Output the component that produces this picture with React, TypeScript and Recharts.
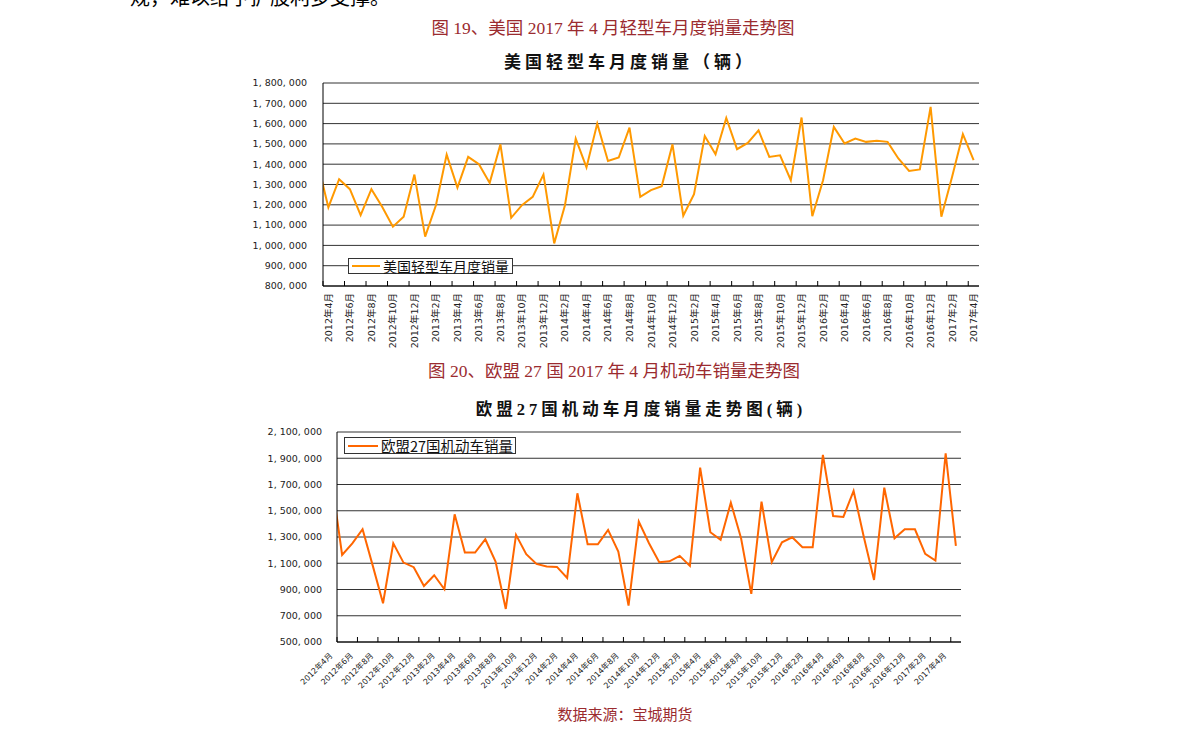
import React from 'react';
import { LineChart, Line, XAxis, YAxis, CartesianGrid, Legend } from 'recharts';

// Months: the first one (2012年3月) lies just outside the plotted range and is clipped.
const months = [
  '2012年3月', '2012年4月', '2012年5月', '2012年6月', '2012年7月', '2012年8月', '2012年9月', '2012年10月', '2012年11月', '2012年12月',
  '2013年1月', '2013年2月', '2013年3月', '2013年4月', '2013年5月', '2013年6月', '2013年7月', '2013年8月', '2013年9月', '2013年10月', '2013年11月', '2013年12月',
  '2014年1月', '2014年2月', '2014年3月', '2014年4月', '2014年5月', '2014年6月', '2014年7月', '2014年8月', '2014年9月', '2014年10月', '2014年11月', '2014年12月',
  '2015年1月', '2015年2月', '2015年3月', '2015年4月', '2015年5月', '2015年6月', '2015年7月', '2015年8月', '2015年9月', '2015年10月', '2015年11月', '2015年12月',
  '2016年1月', '2016年2月', '2016年3月', '2016年4月', '2016年5月', '2016年6月', '2016年7月', '2016年8月', '2016年9月', '2016年10月', '2016年11月', '2016年12月',
  '2017年1月', '2017年2月', '2017年3月', '2017年4月',
];

const usSales = [
  1407000,
  1187000, 1326000, 1277000, 1149000, 1277000, 1190000, 1092000, 1141000, 1349000,
  1043000, 1198000, 1447000, 1285000, 1436000, 1400000, 1308000, 1498000, 1136000, 1198000, 1239000, 1349000,
  1010000, 1198000, 1526000, 1384000, 1600000, 1416000, 1433000, 1580000, 1239000, 1272000, 1292000, 1498000,
  1146000, 1252000, 1539000, 1449000, 1628000, 1474000, 1505000, 1567000, 1436000, 1444000, 1321000, 1630000,
  1144000, 1321000, 1584000, 1502000, 1526000, 1510000, 1515000, 1510000, 1428000, 1367000, 1374000, 1682000,
  1141000, 1338000, 1548000, 1420000,
];

const euSales = [
  1723000,
  1163000, 1252000, 1359000, 1080000, 795000, 1252000, 1105000, 1070000, 927000,
  1009000, 902000, 1473000, 1181000, 1181000, 1283000, 1113000, 752000, 1316000, 1169000, 1095000, 1075000,
  1072000, 988000, 1633000, 1245000, 1245000, 1354000, 1189000, 778000, 1417000, 1252000, 1108000, 1115000,
  1156000, 1080000, 1828000, 1336000, 1278000, 1562000, 1290000, 867000, 1570000, 1108000, 1260000, 1298000,
  1222000, 1222000, 1925000, 1460000, 1453000, 1651000, 1300000, 973000, 1676000, 1290000, 1359000, 1359000,
  1171000, 1120000, 1938000, 1232000,
];

const xTickLabels = [
  '2012年4月', '2012年6月', '2012年8月', '2012年10月', '2012年12月',
  '2013年2月', '2013年4月', '2013年6月', '2013年8月', '2013年10月', '2013年12月',
  '2014年2月', '2014年4月', '2014年6月', '2014年8月', '2014年10月', '2014年12月',
  '2015年2月', '2015年4月', '2015年6月', '2015年8月', '2015年10月', '2015年12月',
  '2016年2月', '2016年4月', '2016年6月', '2016年8月', '2016年10月', '2016年12月',
  '2017年2月', '2017年4月',
];

const usYTicks = [800000, 900000, 1000000, 1100000, 1200000, 1300000, 1400000, 1500000, 1600000, 1700000, 1800000];
const euYTicks = [500000, 700000, 900000, 1100000, 1300000, 1500000, 1700000, 1900000, 2100000];

const usName = '美国轻型车月度销量';
const euName = '欧盟27国机动车销量';

// index of each month on the category scale: 2012年4月 = 0
const data = months.map((m, i) => ({ idx: i - 1, month: m, us: usSales[i], eu: euSales[i] }));
const xTicks = xTickLabels.map((_, i) => i * 2);
const nCats = months.length - 1;
const xDomain: [number, number] = [-0.5, nCats - 0.5];

const fmtY = (v: number) => v.toLocaleString('en-US').replace(/,/g, ', ');

const SERIF = "'Liberation Serif', 'Noto Sans CJK SC', serif";
const AXISFONT = "'DejaVu Sans', 'Noto Sans CJK SC', sans-serif";
const CAPTION = '#9b2b2f';

// Top chart geometry
const T = { left: 240, top: 70, width: 759, height: 286, mt: 13, mr: 20, yw: 83, xh: 70 };
const tPlotW = T.width - T.yw - T.mr;
const tHalf = tPlotW / nCats / 2;
// Bottom chart geometry
const B = { left: 240, top: 420, width: 741, height: 282, mt: 12, mr: 20, yw: 97, xh: 60 };
const bPlotW = B.width - B.yw - B.mr;
const bHalf = bPlotW / nCats / 2;

function VTick(props: any) {
  const { x, y, payload } = props;
  const label = xTickLabels[Math.round(payload.value / 2)];
  const ty = y + 7;
  return (
    <g>
      <line x1={x - tHalf} x2={x - tHalf} y1={y} y2={y - 5} stroke="#000" />
      <text x={x} y={ty} transform={`rotate(-90, ${x}, ${ty})`} textAnchor="end" dominantBaseline="central"
        fontSize={9.5} fontFamily={AXISFONT} fill="#222">{label}</text>
    </g>
  );
}

function DTick(props: any) {
  const { x, y, payload } = props;
  const label = xTickLabels[Math.round(payload.value / 2)];
  const tx = x - 9;
  const ty = y + 14;
  return (
    <g>
      <line x1={x - bHalf} x2={x - bHalf} y1={y} y2={y - 5} stroke="#000" />
      <text x={tx} y={ty} transform={`rotate(-45, ${tx}, ${ty})`} textAnchor="end"
        fontSize={8} fontFamily={AXISFONT} fill="#222" stroke="none">{label}</text>
    </g>
  );
}

function LegendBox({ name, color, width, height, fontSize, lineW }: any) {
  return (
    <div style={{
      width, height, boxSizing: 'border-box', border: '1px solid #333', background: '#fff',
      display: 'flex', alignItems: 'center', paddingLeft: 3, whiteSpace: 'nowrap',
    }}>
      <svg width={lineW} height={4} style={{ marginRight: 3 }}>
        <line x1={0} x2={lineW} y1={2} y2={2} stroke={color} strokeWidth={2} />
      </svg>
      <span style={{ fontSize, lineHeight: `${height - 2}px`, fontFamily: "'Noto Sans CJK SC', sans-serif", color: '#111' }}>{name}</span>
    </div>
  );
}

function Txt({ cx, cy, size, color, bold, spacing, children, left }: any) {
  const style: any = {
    position: 'absolute', top: cy - size / 2, fontSize: size, lineHeight: `${size}px`, color,
    fontWeight: bold ? 'bold' : 'normal', letterSpacing: spacing || 0, whiteSpace: 'nowrap', fontFamily: SERIF,
  };
  if (left !== undefined) style.left = left;
  else { style.left = cx; style.transform = 'translateX(-50%)'; }
  return <div style={style}>{children}</div>;
}

export default function App() {
  return (
    <div style={{ position: 'absolute', left: 0, top: 0, width: 1191, height: 743, overflow: 'hidden', background: '#fff' }}>
      <Txt left={130} cy={-2} size={20} color="#000">规，难以给予扩股利多支撑。</Txt>
      <Txt cx={613} cy={29} size={17.5} color={CAPTION}>图 19、美国 2017 年 4 月轻型车月度销量走势图</Txt>
      <Txt cx={630} cy={62} size={17} bold spacing={4} color="#111">美国轻型车月度销量（辆）</Txt>

      <div style={{ position: 'absolute', left: T.left, top: T.top }}>
        <LineChart width={T.width} height={T.height} data={data} margin={{ top: T.mt, right: T.mr, left: 0, bottom: 0 }}>
          <CartesianGrid vertical={false} stroke="#333" />
          <XAxis dataKey="idx" type="number" domain={xDomain} allowDataOverflow ticks={xTicks} interval={0}
            tickSize={0} tickMargin={0} tickLine={false} axisLine={{ stroke: '#000' }} height={T.xh}
            tick={(p: any) => <VTick {...p} />} />
          <XAxis xAxisId="top" orientation="top" dataKey="idx" type="number" domain={xDomain} allowDataOverflow
            tick={false} tickLine={false} axisLine={{ stroke: '#999' }} height={0} />
          <YAxis domain={[800000, 1800000]} ticks={usYTicks} interval={0} allowDataOverflow width={T.yw}
            tickLine={false} tickSize={8} tickMargin={8} axisLine={{ stroke: '#000' }}
            tickFormatter={fmtY} tick={{ fontSize: 9.5, fontFamily: AXISFONT, fill: '#222' }} />
          <YAxis yAxisId="right" orientation="right" domain={[800000, 1800000]} tick={false} tickLine={false}
            axisLine={{ stroke: '#999' }} width={0} />
          <Legend layout="vertical" align="center" verticalAlign="middle"
            wrapperStyle={{ position: 'absolute', left: 108, top: 188, width: 'auto' }}
            content={() => <LegendBox name={usName} color="#FF9900" width={165} height={16} fontSize={14} lineW={28} />} />
          <Line dataKey="us" name={usName} stroke="#FF9900" strokeWidth={2} dot={false} isAnimationActive={false} />
        </LineChart>
      </div>

      <Txt cx={614} cy={372} size={17.5} color={CAPTION}>图 20、欧盟 27 国 2017 年 4 月机动车销量走势图</Txt>
      <Txt cx={641} cy={410} size={16.5} bold spacing={4} color="#111">欧盟27国机动车月度销量走势图(辆)</Txt>

      <div style={{ position: 'absolute', left: B.left, top: B.top }}>
        <LineChart width={B.width} height={B.height} data={data} margin={{ top: B.mt, right: B.mr, left: 0, bottom: 0 }}>
          <CartesianGrid vertical={false} stroke="#333" />
          <XAxis dataKey="idx" type="number" domain={xDomain} allowDataOverflow ticks={xTicks} interval={0}
            tickSize={0} tickMargin={0} tickLine={false} axisLine={{ stroke: '#000' }} height={B.xh}
            tick={(p: any) => <DTick {...p} />} />
          <XAxis xAxisId="top" orientation="top" dataKey="idx" type="number" domain={xDomain} allowDataOverflow
            tick={false} tickLine={false} axisLine={{ stroke: '#999' }} height={0} />
          <YAxis domain={[500000, 2100000]} ticks={euYTicks} interval={0} allowDataOverflow width={B.yw}
            tickLine={false} tickSize={8} tickMargin={7} axisLine={{ stroke: '#000' }}
            tickFormatter={fmtY} tick={{ fontSize: 9.5, fontFamily: AXISFONT, fill: '#222' }} />
          <YAxis yAxisId="right" orientation="right" domain={[500000, 2100000]} tick={false} tickLine={false}
            axisLine={{ stroke: '#999' }} width={0} />
          <Legend layout="vertical" align="center" verticalAlign="middle"
            wrapperStyle={{ position: 'absolute', left: 104, top: 17, width: 'auto' }}
            content={() => <LegendBox name={euName} color="#FF6600" width={172} height={17} fontSize={14.5} lineW={30} />} />
          <Line dataKey="eu" name={euName} stroke="#FF6600" strokeWidth={2} dot={false} isAnimationActive={false} />
        </LineChart>
      </div>

      <Txt cx={625} cy={715} size={15} color={CAPTION}>数据来源：宝城期货</Txt>
    </div>
  );
}
